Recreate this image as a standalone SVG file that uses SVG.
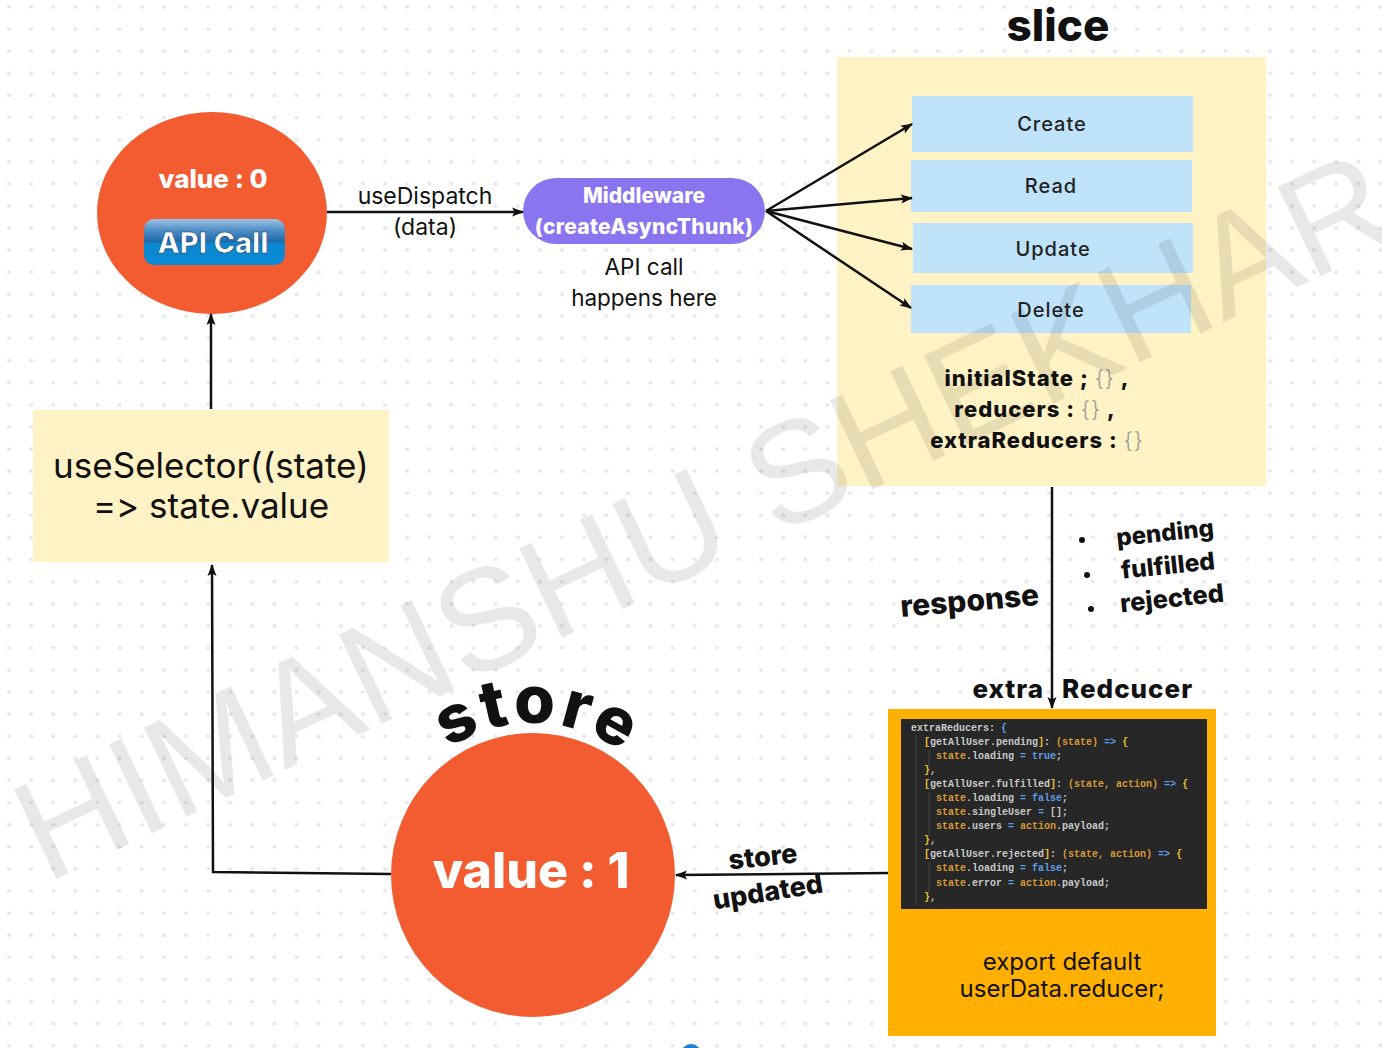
<svg xmlns="http://www.w3.org/2000/svg" width="1382" height="1048" viewBox="0 0 1382 1048">
<defs>
<pattern id="dots" x="0" y="0" width="22.12" height="22.1" patternUnits="userSpaceOnUse">
<circle cx="9" cy="7" r="2" fill="#e4e7ee"/>
</pattern>
<marker id="arr" viewBox="0 0 12 10" refX="11" refY="5" markerWidth="12" markerHeight="10" markerUnits="userSpaceOnUse" orient="auto">
<path d="M0,0.5 L12,5 L0,9.5 L2.5,5 Z" fill="#111"/>
</marker>
<linearGradient id="btn" x1="0" y1="0" x2="0" y2="1">
<stop offset="0" stop-color="#9cc3e3"/>
<stop offset="0.25" stop-color="#4e8ec6"/>
<stop offset="0.5" stop-color="#1c67a8"/>
<stop offset="0.52" stop-color="#0a86cf"/>
<stop offset="1" stop-color="#0a8bd6"/>
</linearGradient>
<path id="storeArc" d="M381,875 A152,152 0 0 1 685,875"/>
<style>
text{font-feature-settings:"calt" 0,"liga" 0;font-variant-ligatures:none}
.lbl{font-family:Inter,"Noto Sans","Liberation Sans",sans-serif;fill:#111}
.bold{font-family:Inter,"Noto Sans","Liberation Sans",sans-serif;font-weight:800;fill:#111}
.crud{font-family:Inter,"Noto Sans","Liberation Sans",sans-serif;font-weight:500;font-size:20px;fill:#222;letter-spacing:1px;text-anchor:middle}
.wht{font-family:Inter,"Noto Sans","Liberation Sans",sans-serif;font-weight:800;fill:#fff;text-anchor:middle}
.conn{stroke:#111;stroke-width:2.5;fill:none}
.code{font-family:"Liberation Mono","DejaVu Sans Mono",monospace;font-size:10px;font-weight:bold;fill:#c9c9c9}
.k{fill:#d89a35}
.b{fill:#5c9ee6}
.y{fill:#e8c030}
.br{fill:#999;font-weight:300}
</style>
</defs>
<rect width="1382" height="1048" fill="#ffffff"/>
<rect width="1382" height="1048" fill="url(#dots)"/>

<g id="slice">
<rect x="837" y="57" width="429" height="429" fill="#fff2c4"/>
<text class="bold" x="1058" y="41" font-size="44" text-anchor="middle">slice</text>
<text class="bold" x="1037" y="386" font-size="22" text-anchor="middle" letter-spacing="1">initialState ; <tspan class="br">{}</tspan> ,</text>
<text class="bold" x="1035" y="417" font-size="22" text-anchor="middle" letter-spacing="1">reducers : <tspan class="br">{}</tspan> ,</text>
<text class="bold" x="1037" y="448" font-size="22" text-anchor="middle" letter-spacing="1">extraReducers : <tspan class="br">{}</tspan></text>
</g>
<g id="create"><rect x="912" y="96" width="281" height="56" fill="#bfe3fb"/><text class="crud" x="1052" y="131">Create</text></g>
<g id="read"><rect x="911" y="160" width="281" height="52" fill="#bfe3fb"/><text class="crud" x="1051" y="193">Read</text></g>
<g id="update"><rect x="913" y="223" width="280" height="50" fill="#bfe3fb"/><text class="crud" x="1053" y="256">Update</text></g>
<g id="delete"><rect x="911" y="285" width="280" height="48" fill="#bfe3fb"/><text class="crud" x="1051" y="317">Delete</text></g>

<g id="api-circle">
<ellipse cx="212" cy="213" rx="115" ry="101" fill="#f35b31"/>
<text class="wht" x="213" y="188" font-size="26">value : 0</text>
<rect x="144" y="219" width="141" height="46" rx="10" fill="url(#btn)"/>
<text class="wht" x="213" y="253" font-size="29" font-family="Liberation Sans,Arial,sans-serif" stroke="#0b3b66" stroke-width="0.6">API Call</text>
</g>

<g id="middleware">
<rect x="523" y="178" width="242" height="66" rx="33" fill="#8b74f0"/>
<text class="wht" x="644" y="203" font-size="21" font-weight="700">Middleware</text>
<text class="wht" x="644" y="234" font-size="21" font-weight="700" letter-spacing="0.3">(createAsyncThunk)</text>
<text class="lbl" x="644" y="275" font-size="22.5" text-anchor="middle">API call</text>
<text class="lbl" x="644" y="306" font-size="22.5" text-anchor="middle">happens here</text>
</g>

<g id="useselector">
<rect x="33" y="410" width="356" height="152" fill="#fff2c4"/>
<text class="lbl" x="211" y="478" font-size="35" text-anchor="middle" fill="#222">useSelector((state)</text>
<text class="lbl" x="211" y="518" font-size="35" text-anchor="middle" fill="#222">=&gt; state.value</text>
</g>

<g id="reducer">
<rect x="888" y="709" width="328" height="327" fill="#ffb000"/>
<rect x="901" y="719" width="306" height="190" fill="#272727"/>
<g stroke="#444" stroke-width="1"><line x1="916" y1="736" x2="916" y2="905"/><line x1="929" y1="750" x2="929" y2="766"/><line x1="929" y1="792" x2="929" y2="836"/><line x1="929" y1="862" x2="929" y2="893"/></g>
<text class="code" x="911" y="731">extraReducers: <tspan class="b">{</tspan></text>
<text class="code" x="924" y="745"><tspan class="y">[</tspan>getAllUser.pending<tspan class="y">]</tspan>: <tspan class="k">(state)</tspan> <tspan class="b">=&gt;</tspan> <tspan class="y">{</tspan></text>
<text class="code" x="936" y="759"><tspan class="k">state</tspan>.loading <tspan class="b">=</tspan> <tspan class="b">true</tspan>;</text>
<text class="code" x="924" y="773"><tspan class="y">}</tspan>,</text>
<text class="code" x="924" y="787"><tspan class="y">[</tspan>getAllUser.fulfilled<tspan class="y">]</tspan>: <tspan class="k">(state, action)</tspan> <tspan class="b">=&gt;</tspan> <tspan class="y">{</tspan></text>
<text class="code" x="936" y="801"><tspan class="k">state</tspan>.loading <tspan class="b">=</tspan> <tspan class="b">false</tspan>;</text>
<text class="code" x="936" y="815"><tspan class="k">state</tspan>.singleUser <tspan class="b">=</tspan> [];</text>
<text class="code" x="936" y="829"><tspan class="k">state</tspan>.users <tspan class="b">=</tspan> <tspan class="k">action</tspan>.payload;</text>
<text class="code" x="924" y="843"><tspan class="y">}</tspan>,</text>
<text class="code" x="924" y="857"><tspan class="y">[</tspan>getAllUser.rejected<tspan class="y">]</tspan>: <tspan class="k">(state, action)</tspan> <tspan class="b">=&gt;</tspan> <tspan class="y">{</tspan></text>
<text class="code" x="936" y="871"><tspan class="k">state</tspan>.loading <tspan class="b">=</tspan> <tspan class="b">false</tspan>;</text>
<text class="code" x="936" y="886"><tspan class="k">state</tspan>.error <tspan class="b">=</tspan> <tspan class="k">action</tspan>.payload;</text>
<text class="code" x="924" y="900"><tspan class="y">}</tspan>,</text>
<text class="lbl" x="1062" y="970" font-size="24" text-anchor="middle">export default</text>
<text class="lbl" x="1062" y="997" font-size="24" text-anchor="middle">userData.reducer;</text>
</g>

<g id="store">
<circle cx="533" cy="875" r="142" fill="#f35b31"/>
<text class="wht" x="531" y="888" font-size="50">value : 1</text>
<text class="bold" font-size="66" letter-spacing="4"><textPath href="#storeArc" startOffset="51%" text-anchor="middle">store</textPath></text>
</g>

<g id="connectors">
<line class="conn" x1="327" y1="212" x2="523" y2="212" marker-end="url(#arr)"/>
<line class="conn" x1="766" y1="211" x2="912" y2="124" marker-end="url(#arr)"/>
<line class="conn" x1="766" y1="211" x2="912" y2="198" marker-end="url(#arr)"/>
<line class="conn" x1="766" y1="211" x2="912" y2="249" marker-end="url(#arr)"/>
<line class="conn" x1="766" y1="211" x2="911" y2="308" marker-end="url(#arr)"/>
<line class="conn" x1="1052" y1="487" x2="1052" y2="708" marker-end="url(#arr)"/>
<line class="conn" x1="888" y1="873" x2="676" y2="875" marker-end="url(#arr)"/>
<polyline class="conn" points="391,874 213,872 212,565" marker-end="url(#arr)"/>
<line class="conn" x1="211" y1="409" x2="211" y2="314" marker-end="url(#arr)"/>
<text class="lbl" x="425" y="204" font-size="23" text-anchor="middle">useDispatch</text>
<text class="lbl" x="425" y="235" font-size="23" text-anchor="middle">(data)</text>
<text class="bold" x="970" y="611" font-size="30" text-anchor="middle" transform="rotate(-5 970 605)">response</text>
<text class="bold" x="1165" y="541" font-size="24" text-anchor="middle" transform="rotate(-6 1165 533)">pending</text>
<text class="bold" x="1168" y="574" font-size="24.5" text-anchor="middle" transform="rotate(-6 1168 566)">fulfilled</text>
<text class="bold" x="1172" y="607" font-size="25.5" text-anchor="middle" transform="rotate(-6 1172 599)">rejected</text>
<circle cx="1082" cy="540" r="3" fill="#111"/>
<circle cx="1087" cy="575" r="3" fill="#111"/>
<circle cx="1091" cy="609" r="3" fill="#111"/>
<text class="bold" x="1044" y="698" font-size="26" text-anchor="end" letter-spacing="1">extra</text>
<text class="bold" x="1062" y="698" font-size="26" letter-spacing="1">Redcucer</text>
<text class="bold" x="763" y="866" font-size="27" text-anchor="middle" transform="rotate(-6 763 858)">store</text>
<text class="bold" x="768" y="901" font-size="27" text-anchor="middle" transform="rotate(-9 768 893)">updated</text>
</g>

<circle cx="691" cy="1054" r="10" fill="#1b7fd4"/>
<text x="46" y="884" font-family="Liberation Sans,Arial,sans-serif" font-size="144" fill="#000" fill-opacity="0.09" transform="rotate(-25.5 46 884)">HIMANSHU SHEKHAR</text>
</svg>
